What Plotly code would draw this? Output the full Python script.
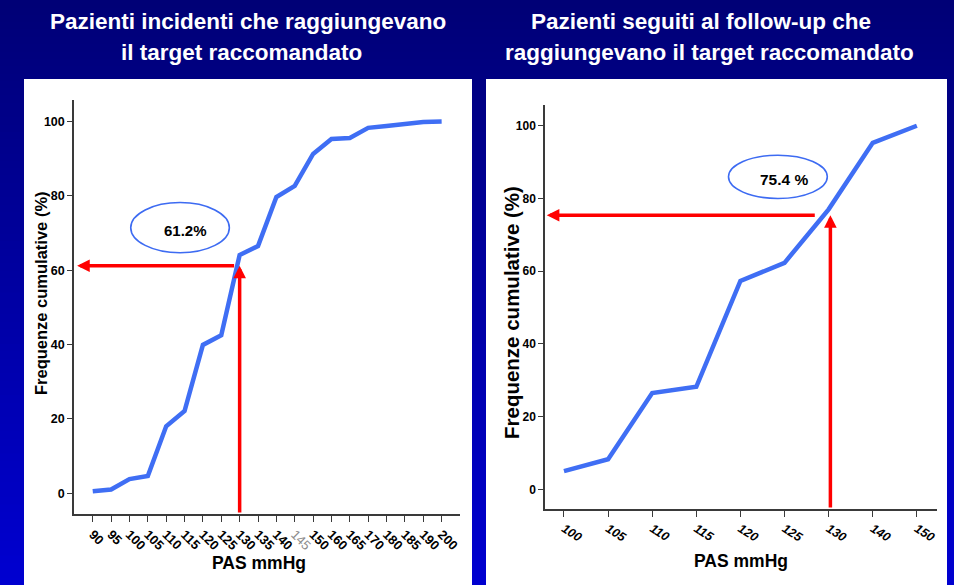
import plotly.graph_objects as go

W, H = 954, 585

# ---- data -------------------------------------------------------------
left_pas = ["90", "95", "100", "105", "110", "115", "120", "125", "130", "135",
            "140", "145", "150", "160", "165", "170", "180", "185", "190", "200"]
left_cum = [0.5, 1.0, 3.8, 4.6, 18.0, 22.1, 39.9, 42.5, 64.1, 66.5,
            79.7, 82.7, 91.3, 95.3, 95.6, 98.3, 98.8, 99.4, 99.9, 100.0]

right_pas = ["100", "105", "110", "115", "120", "125", "130", "140", "150"]
right_cum = [5.0, 8.3, 26.5, 28.2, 57.3, 62.3, 77.0, 95.3, 100.0]

target_pas = "130"
left_target_pct = 61.2
right_target_pct = 75.4

y_ticks = [0, 20, 40, 60, 80, 100]
faded_tick = "145"

left_title_lines = ["Pazienti incidenti che raggiungevano", "il target raccomandato"]
right_title_lines = ["Pazienti seguiti al follow-up che", "raggiungevano il target raccomandato"]
x_title = "PAS mmHg"
y_title = "Frequenze cumulative (%)"

# ---- styling ----------------------------------------------------------
FONT = "Arial, Liberation Sans, sans-serif"
TITLE_FONT = "Liberation Sans Narrow, Arial Narrow, Arial, Liberation Sans, sans-serif"
CURVE_BLUE = "#3f6ef4"
ELLIPSE_BLUE = "#3d6bf2"
RED = "#ff0000"
AXIS_COL = "#3a3a3a"


def px_x(p):
    return p / W


def px_y(p):
    return 1 - p / H


fig = go.Figure()

left_idx = list(range(len(left_pas)))
right_idx = list(range(len(right_pas)))

fig.add_trace(go.Scatter(x=left_idx, y=left_cum, mode="lines",
                         line=dict(color=CURVE_BLUE, width=4.5),
                         xaxis="x", yaxis="y", hoverinfo="skip", showlegend=False))
fig.add_trace(go.Scatter(x=right_idx, y=right_cum, mode="lines",
                         line=dict(color=CURVE_BLUE, width=4.5),
                         xaxis="x2", yaxis="y2", hoverinfo="skip", showlegend=False))

# ---- background: vertical navy gradient + two white panels -----------
shapes = []
n_bands = 80
for i in range(n_bands):
    t = i / (n_bands - 1)
    b = int(round(118 + t * (208 - 118)))
    shapes.append(dict(type="rect", xref="paper", yref="paper",
                       x0=0, x1=1,
                       y0=max(0, 1 - (i + 1.3) / n_bands), y1=1 - i / n_bands,
                       fillcolor=f"rgb(0,0,{b})", line=dict(width=0), layer="below"))

for x0, x1 in [(24, 472), (486, 947)]:
    shapes.append(dict(type="rect", xref="paper", yref="paper",
                       x0=px_x(x0), x1=px_x(x1), y0=0, y1=px_y(79),
                       fillcolor="white", line=dict(width=0), layer="below"))

# ---- axes ---------------------------------------------------------------
left_xrange = [-1.02, 20.0]
left_yrange = [-5.6, 105.8]
right_xrange = [-0.43, 8.45]
right_yrange = [-5.4, 105.7]


def tick_text(labels):
    out = []
    for lab in labels:
        if lab == faded_tick:
            out.append(f'<span style="color:#8c8c8c;font-weight:normal">{lab}</span>')
        else:
            out.append(lab)
    return out


common_x = dict(showgrid=False, zeroline=False, showline=True, linecolor=AXIS_COL,
                linewidth=1.5, ticks="outside", tickcolor=AXIS_COL, tickwidth=1.2,
                ticklen=6, fixedrange=True)
common_y = dict(showgrid=False, zeroline=False, showline=True, linecolor=AXIS_COL,
                linewidth=1.5, ticks="outside", tickcolor=AXIS_COL, tickwidth=1.2,
                ticklen=5, tickvals=y_ticks, fixedrange=True)

fig.update_layout(
    xaxis=dict(domain=[px_x(74), px_x(460)], range=left_xrange, anchor="y",
               tickvals=left_idx, ticktext=tick_text(left_pas), tickangle=45,
               tickfont=dict(family=FONT, size=13, color="black", weight="bold"),
               **common_x),
    yaxis=dict(domain=[px_y(514), px_y(100)], range=left_yrange, anchor="x",
               tickfont=dict(family=FONT, size=12.5, color="black", weight="bold"),
               **common_y),
    xaxis2=dict(domain=[px_x(545), px_x(936.7)], range=right_xrange, anchor="y2",
                tickvals=right_idx, ticktext=right_pas, tickangle=32,
                tickfont=dict(family=FONT, size=12.5, color="black", weight="bold",
                              style="italic"),
                **common_x),
    yaxis2=dict(domain=[px_y(509), px_y(105)], range=right_yrange, anchor="x2",
                tickfont=dict(family=FONT, size=12, color="black", weight="bold"),
                **common_y),
)

# ---- target markers: ellipses --------------------------------------------
shapes.append(dict(type="circle", xref="x", yref="y",
                   x0=2.07, x1=7.44, y0=64.7, y1=78.2,
                   line=dict(color=ELLIPSE_BLUE, width=1.6), fillcolor="rgba(0,0,0,0)"))
shapes.append(dict(type="circle", xref="x2", yref="y2",
                   x0=3.73, x1=5.97, y0=80.0, y1=91.9,
                   line=dict(color=ELLIPSE_BLUE, width=1.6), fillcolor="rgba(0,0,0,0)"))

annotations = []


def red_arrow(xref, yref, x, y, ax, ay):
    annotations.append(dict(xref=xref, yref=yref, axref=xref, ayref=yref,
                            x=x, y=y, ax=ax, ay=ay, text="", showarrow=True,
                            arrowhead=2, arrowsize=0.72, arrowwidth=3.5,
                            arrowcolor=RED, standoff=0, startstandoff=0))


# left panel arrows
lt = left_pas.index(target_pas)
red_arrow("x", "y", lt, left_target_pct, lt, left_yrange[0])
red_arrow("x", "y", left_xrange[0] + 0.17, left_target_pct, lt - 0.22, left_target_pct)
# right panel arrows
rt = right_pas.index(target_pas)
red_arrow("x2", "y2", rt + 0.04, right_target_pct, rt + 0.04, right_yrange[0])
red_arrow("x2", "y2", right_xrange[0] + 0.04, right_target_pct, rt - 0.28, right_target_pct)

# percentage labels
annotations.append(dict(xref="x", yref="y", x=5.03, y=70.8, showarrow=False,
                        text=f"{left_target_pct}%",
                        font=dict(family=FONT, size=15, color="black", weight="bold")))
annotations.append(dict(xref="x2", yref="y2", x=4.99, y=85.3, showarrow=False,
                        text=f"{right_target_pct} %",
                        font=dict(family=FONT, size=15.5, color="black", weight="bold")))

# panel headings, one annotation per line
heading_lines = [(248, 22, left_title_lines[0]), (241, 52, left_title_lines[1]),
                 (701, 22, right_title_lines[0]), (709.5, 52, right_title_lines[1])]
for xc, yc, text in heading_lines:
    annotations.append(dict(xref="paper", yref="paper", x=px_x(xc), y=px_y(yc),
                            xanchor="center", yanchor="middle", showarrow=False,
                            text=text,
                            font=dict(family=TITLE_FONT, size=22.5, color="white",
                                      weight="bold")))

# axis titles
for xc, yc in [(259, 563), (741, 561)]:
    annotations.append(dict(xref="paper", yref="paper", x=px_x(xc), y=px_y(yc),
                            xanchor="center", yanchor="middle", showarrow=False,
                            text=x_title,
                            font=dict(family=FONT, size=17.5, color="black",
                                      weight="bold")))
for xc, yc, fs in [(41, 293, 16.5), (511, 312, 20.5)]:
    annotations.append(dict(xref="paper", yref="paper", x=px_x(xc), y=px_y(yc),
                            xanchor="center", yanchor="middle", showarrow=False,
                            text=y_title, textangle=-90,
                            font=dict(family=FONT, size=fs, color="black",
                                      weight="bold")))

fig.update_layout(
    width=W, height=H,
    margin=dict(l=0, r=0, t=0, b=0),
    paper_bgcolor="#00007a",
    plot_bgcolor="rgba(0,0,0,0)",
    shapes=shapes,
    annotations=annotations,
    showlegend=False,
)

fig.write_html("out.html", config={"displayModeBar": False})
